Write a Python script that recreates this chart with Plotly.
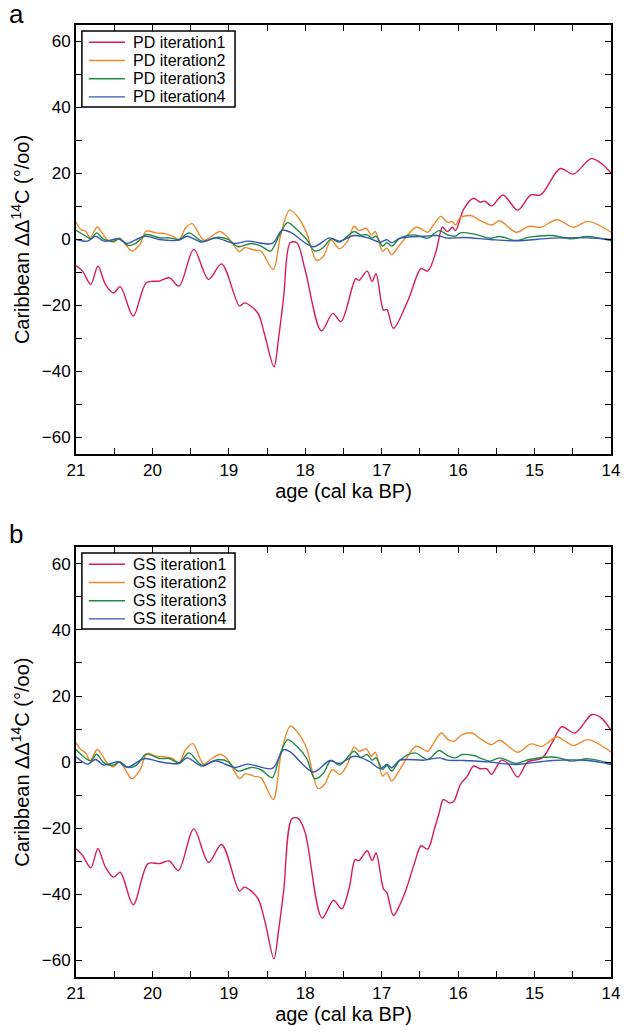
import plotly.graph_objects as go

# ---------------- Panel a (PD) ----------------
pd1_age = [21.0, 20.914, 20.807, 20.713, 20.615, 20.508, 20.422, 20.251, 20.080, 19.909, 19.780, 19.652,
           19.459, 19.266, 19.095, 18.860, 18.796, 18.624, 18.53, 18.410, 18.35, 18.282, 18.197, 18.110,
           18.003, 17.789, 17.640, 17.533, 17.34, 17.297, 17.19, 17.126, 17.074, 16.976, 16.933, 16.847,
           16.655, 16.484, 16.398, 16.291, 16.205, 16.141, 16.077, 16.034, 15.927, 15.80, 15.713, 15.649,
           15.563, 15.413, 15.221, 15.05, 14.921, 14.664, 14.493, 14.258, 14.129, 14.0]
pd1_val = [-7.9, -9.6, -13.6, -8.1, -13.6, -16.2, -14.3, -23.2, -13.1, -12.6, -11.6, -14.1,
           -3.0, -12.1, -7.4, -20.2, -19.2, -22.2, -29.0, -38.6, -30.0, -17.2, -1.0, -1.0,
           -9.1, -27.7, -22.4, -24.9, -11.9, -12.4, -9.6, -12.7, -10.4, -21.4, -21.2, -26.9,
           -18.4, -8.8, -9.6, -3.8, 3.7, 2.4, 3.7, 2.7, 9.2, 12.5, 11.3, 11.6,
           10.1, 13.5, 8.9, 13.5, 13.5, 21.5, 19.8, 24.5, 23.1, 20.1]

pd2_age = [21.0, 20.936, 20.872, 20.816, 20.722, 20.658, 20.593, 20.508, 20.431, 20.336, 20.272, 20.165,
           20.080, 19.951, 19.823, 19.737, 19.652, 19.566, 19.480, 19.330, 19.223, 19.116, 19.009, 18.860,
           18.796, 18.667, 18.581, 18.419, 18.325, 18.205, 18.089, 17.982, 17.854, 17.768, 17.661, 17.554,
           17.447, 17.361, 17.297, 17.203, 17.134, 17.083, 16.989, 16.933, 16.869, 16.762, 16.548, 16.398,
           16.334, 16.227, 16.141, 16.077, 16.034, 15.970, 15.820, 15.713, 15.563, 15.456, 15.242, 15.071,
           14.921, 14.707, 14.493, 14.300, 14.0]
pd2_val = [5.3, 3.0, 2.5, 0.5, 3.8, 2.0, 0.0, -0.8, 0.5, -2.0, -3.5, -1.5,
           2.5, 2.0, 1.7, 1.0, 0.0, 3.5, 4.8, -0.2, 1.0, 2.4, 0.5, -3.7,
           -2.5, -3.2, -3.5, -9.1, 1.0, 8.9, 6.6, 2.0, -6.3, -5.3, -0.2, -2.8,
           -0.5, 4.0, 2.7, 3.4, 1.4, 2.4, -3.6, -2.6, -4.6, -1.6, 3.7, 2.2,
           4.0, 7.0, 5.2, 5.4, 4.4, 6.7, 7.2, 5.7, 4.4, 5.7, 2.2, 4.0,
           3.7, 6.0, 3.7, 5.5, 2.2]

pd3_age = [21.0, 20.872, 20.807, 20.730, 20.636, 20.508, 20.431, 20.315, 20.208, 20.080, 19.909, 19.780,
           19.652, 19.523, 19.352, 19.138, 19.009, 18.881, 18.710, 18.581, 18.453, 18.346, 18.231, 18.111,
           17.982, 17.875, 17.768, 17.661, 17.554, 17.361, 17.276, 17.190, 17.126, 17.074, 16.989, 16.933,
           16.869, 16.762, 16.569, 16.398, 16.248, 16.141, 16.034, 15.970, 15.799, 15.585, 15.456, 15.242,
           15.071, 14.771, 14.514, 14.322, 14.0]
pd3_val = [2.8, 1.0, 0.2, 2.0, 0.0, -0.5, 0.2, -1.8, -1.0, 1.5, 0.5, 0.5,
           0.0, 2.0, -0.5, 0.7, 0.0, -2.2, -1.2, -2.0, -3.5, 1.0, 5.1, 3.0,
           0.0, -3.5, -2.5, 0.2, -0.8, 2.4, 1.4, 1.4, 0.4, 1.0, -2.0, -1.0,
           -2.0, 0.4, 1.4, 0.4, 2.7, 1.4, 1.0, 2.0, 1.7, 0.4, 0.9, -0.3,
           0.7, 1.2, 0.2, 0.9, -0.3]

pd4_age = [21.0, 20.850, 20.743, 20.636, 20.443, 20.336, 20.101, 19.909, 19.652, 19.545, 19.352, 19.181,
           18.924, 18.753, 18.432, 18.304, 18.196, 17.896, 17.682, 17.554, 17.361, 17.169, 17.019, 16.933,
           16.869, 16.762, 16.441, 16.270, 16.141, 15.927, 15.585, 15.242, 14.771, 14.300, 14.0]
pd4_val = [0.0, -0.5, 1.0, -0.5, 0.2, -1.2, 1.0, 0.0, -0.2, 1.0, -0.8, 0.5,
           -1.2, -0.5, -1.2, 2.8, 2.2, -2.2, 0.5, -0.5, 1.2, 0.4, -0.8, -0.1,
           -1.0, 0.4, 1.0, 1.2, 0.4, 0.6, 0.0, -0.4, 0.4, 0.5, 0.0]

# ---------------- Panel b (GS) ----------------
gs1_age = [21.0, 20.914, 20.807, 20.713, 20.615, 20.508, 20.422, 20.251, 20.058, 19.909, 19.780, 19.660,
           19.459, 19.266, 19.095, 18.860, 18.796, 18.624, 18.53, 18.410, 18.35, 18.282, 18.175, 18.090,
           18.003, 17.780, 17.630, 17.523, 17.425, 17.348, 17.297, 17.190, 17.126, 17.074, 16.976, 16.933,
           16.847, 16.76, 16.676, 16.569, 16.484, 16.398, 16.312, 16.248, 16.193, 16.120, 16.056, 15.970,
           15.884, 15.799, 15.713, 15.627, 15.563, 15.435, 15.349, 15.221, 15.092, 14.900, 14.771, 14.643,
           14.472, 14.249, 14.129, 14.0]
gs1_val = [-26.2, -28.2, -32.0, -26.2, -31.8, -34.8, -33.3, -43.1, -30.7, -30.7, -29.9, -32.8,
           -20.2, -30.3, -24.9, -39.0, -37.8, -41.1, -48.0, -59.5, -51.0, -38.8, -17.1, -17.1,
           -21.2, -47.2, -41.8, -44.4, -38.0, -29.5, -29.8, -26.8, -29.8, -27.5, -38.4, -39.5,
           -46.4, -43.0, -38.2, -30.4, -25.3, -26.3, -20.3, -15.3, -11.3, -12.3, -11.8, -6.7,
           -4.4, -1.2, -2.0, -2.0, -3.7, 0.6, -0.4, -4.5, 0.0, 1.3, 5.8, 10.7,
           8.8, 14.4, 13.4, 9.6]

gs2_age = [21.0, 20.936, 20.872, 20.816, 20.722, 20.658, 20.593, 20.508, 20.431, 20.336, 20.272, 20.165,
           20.071, 19.951, 19.823, 19.737, 19.652, 19.566, 19.472, 19.330, 19.223, 19.104, 19.009, 18.860,
           18.787, 18.667, 18.581, 18.419, 18.316, 18.196, 18.089, 17.982, 17.832, 17.747, 17.648, 17.545,
           17.447, 17.361, 17.297, 17.203, 17.134, 17.083, 16.989, 16.933, 16.869, 16.762, 16.548, 16.398,
           16.334, 16.218, 16.133, 16.056, 15.948, 15.820, 15.692, 15.563, 15.456, 15.221, 15.050, 14.900,
           14.707, 14.493, 14.300, 14.0]
gs2_val = [5.8, 3.8, 2.8, 0.4, 3.8, 2.1, -0.2, -1.4, 0.1, -3.0, -5.0, -2.5,
           2.6, 1.8, 1.6, 1.1, -0.2, 3.8, 5.6, -0.6, 1.1, 2.4, 0.6, -5.0,
           -3.5, -4.3, -4.7, -11.3, 2.6, 10.9, 8.7, 4.1, -8.0, -6.7, -2.3, -3.7,
           -0.6, 4.6, 3.3, 4.0, 1.8, 3.0, -4.2, -3.2, -5.7, -2.2, 4.8, 3.3,
           5.3, 8.8, 6.8, 6.3, 8.3, 8.8, 6.8, 5.3, 6.6, 3.0, 5.5, 4.8,
           7.6, 5.0, 6.8, 3.0]

gs3_age = [21.0, 20.872, 20.807, 20.730, 20.636, 20.508, 20.431, 20.315, 20.208, 20.080, 19.909, 19.780,
           19.652, 19.523, 19.352, 19.138, 19.009, 18.881, 18.710, 18.581, 18.432, 18.334, 18.231, 18.111,
           17.982, 17.875, 17.768, 17.661, 17.554, 17.361, 17.276, 17.190, 17.126, 17.074, 16.989, 16.933,
           16.869, 16.762, 16.569, 16.398, 16.248, 16.141, 16.034, 15.948, 15.799, 15.585, 15.456, 15.242,
           15.071, 14.728, 14.514, 14.300, 14.0]
gs3_val = [3.8, 1.1, 0.4, 2.4, -0.2, -0.9, 0.1, -1.6, -0.9, 2.4, 1.1, 1.1,
           -0.2, 2.8, -0.9, 0.8, 0.1, -2.7, -1.6, -2.3, -4.7, 2.1, 6.8, 4.8,
           1.1, -5.0, -3.5, 0.6, -0.9, 3.3, 1.4, 2.3, 0.6, 1.3, -2.2, -1.0,
           -2.7, 0.6, 2.8, 0.8, 3.5, 2.0, 1.3, 2.3, 2.0, 0.3, 1.3, -0.4,
           0.8, 1.5, 0.3, 1.0, -0.4]

gs4_age = [21.0, 20.850, 20.743, 20.636, 20.443, 20.336, 20.101, 19.909, 19.652, 19.545, 19.352, 19.181,
           18.924, 18.753, 18.432, 18.282, 18.196, 17.896, 17.682, 17.554, 17.361, 17.169, 17.019, 16.933,
           16.869, 16.762, 16.441, 16.248, 16.141, 15.927, 15.585, 15.242, 14.771, 14.300, 14.0]
gs4_val = [1.6, -0.6, 0.8, -0.9, 0.1, -1.6, 1.1, 0.1, -0.4, 1.3, -1.2, 0.4,
           -1.6, -0.6, -1.9, 3.8, 3.1, -3.0, 0.4, -0.4, 1.8, 0.3, -2.0, -0.7,
           -1.7, 0.6, 0.6, 1.3, 0.6, 0.5, 0.0, -0.7, 0.5, 0.5, -0.7]

names_a = ["PD iteration1", "PD iteration2", "PD iteration3", "PD iteration4"]
names_b = ["GS iteration1", "GS iteration2", "GS iteration3", "GS iteration4"]
colors = ["#d81b60", "#ef8a2c", "#1f8a45", "#3457b0"]

x_tickvals = [21, 20.5, 20, 19.5, 19, 18.5, 18, 17.5, 17, 16.5, 16, 15.5, 15, 14.5, 14]
x_ticktext = ["21", "", "20", "", "19", "", "18", "", "17", "", "16", "", "15", "", "14"]
y_tickvals = [-60, -50, -40, -30, -20, -10, 0, 10, 20, 30, 40, 50, 60]
y_ticktext = ["\u221260", "", "\u221240", "", "\u221220", "", "0", "", "20", "", "40", "", "60"]

FONT = "Liberation Sans, Arial, Helvetica, sans-serif"

fig = go.Figure()
series_a = [(pd1_age, pd1_val), (pd2_age, pd2_val), (pd3_age, pd3_val), (pd4_age, pd4_val)]
series_b = [(gs1_age, gs1_val), (gs2_age, gs2_val), (gs3_age, gs3_val), (gs4_age, gs4_val)]
for (ax, ay), nm, c in zip(series_a, names_a, colors):
    fig.add_trace(go.Scatter(x=ax, y=ay, name=nm, mode="lines", showlegend=False,
                             line=dict(color=c, width=1.4, shape="spline", smoothing=0.9),
                             xaxis="x", yaxis="y"))
for (ax, ay), nm, c in zip(series_b, names_b, colors):
    fig.add_trace(go.Scatter(x=ax, y=ay, name=nm, mode="lines", showlegend=False,
                             line=dict(color=c, width=1.4, shape="spline", smoothing=0.9),
                             xaxis="x2", yaxis="y2"))

xcommon = dict(range=[21, 14], tickmode="array", tickvals=x_tickvals, ticktext=x_ticktext,
               ticks="inside", ticklen=6, tickwidth=1, tickcolor="black",
               showline=True, linecolor="black", linewidth=2, mirror="ticks",
               showgrid=False, zeroline=False,
               tickfont=dict(family=FONT, size=17, color="black"),
               title=dict(text="age (cal ka BP)", font=dict(family=FONT, size=20, color="black"), standoff=3))
ycommon = dict(range=[-65, 65], tickmode="array", tickvals=y_tickvals, ticktext=y_ticktext,
               ticks="inside", ticklen=6, tickwidth=1, tickcolor="black",
               showline=True, linecolor="black", linewidth=2, mirror="ticks",
               showgrid=False, zeroline=False,
               tickfont=dict(family=FONT, size=17, color="black"),
               title=dict(text="Caribbean \u0394\u0394<sup>14</sup>C (\u00b0/oo)",
                          font=dict(family=FONT, size=20, color="black"), standoff=11))

# ---- hand-drawn legends (box, line samples, labels) in paper coordinates ----
shapes = []
annotations = []
PLOT_H = 952.0
PLOT_W = 545.0


def add_legend(names, top_y):
    # top_y: paper y of the legend box top
    x0, x1 = 6 / PLOT_W, 162 / PLOT_W
    box_h = 76 / PLOT_H
    shapes.append(dict(type="rect", xref="paper", yref="paper", x0=x0, x1=x1,
                       y0=top_y - box_h, y1=top_y, fillcolor="white",
                       line=dict(color="black", width=1.5), layer="above"))
    for i, (nm, c) in enumerate(zip(names, colors)):
        yc = top_y - (11.3 + 18.2 * i) / PLOT_H
        shapes.append(dict(type="line", xref="paper", yref="paper",
                           x0=13 / PLOT_W, x1=50 / PLOT_W, y0=yc, y1=yc,
                           line=dict(color=c, width=1.4), layer="above"))
        annotations.append(dict(text=nm, xref="paper", yref="paper", x=56 / PLOT_W, y=yc,
                                xanchor="left", yanchor="middle", showarrow=False,
                                font=dict(family=FONT, size=16, color="black")))


add_legend(names_a, 0.9937)
add_legend(names_b, 0.4454)

annotations += [
    dict(text="a", xref="paper", yref="paper", x=-0.112, y=1.012, showarrow=False,
         font=dict(family=FONT, size=26, color="black"), xanchor="center", yanchor="middle"),
    dict(text="b", xref="paper", yref="paper", x=-0.112, y=0.465, showarrow=False,
         font=dict(family=FONT, size=26, color="black"), xanchor="center", yanchor="middle"),
]

# page body has an 8px margin, so the figure is 8px smaller than the window
fig.update_layout(
    width=621, height=1027,
    margin=dict(l=67, r=9, t=17, b=58),
    paper_bgcolor="white", plot_bgcolor="white",
    showlegend=False,
    xaxis=dict(domain=[0, 1], anchor="y", **xcommon),
    yaxis=dict(domain=[0.5494, 1.0], anchor="x", **ycommon),
    xaxis2=dict(domain=[0, 1], anchor="y2", **xcommon),
    yaxis2=dict(domain=[0.0, 0.4514], anchor="x2", **ycommon),
    shapes=shapes,
    annotations=annotations,
)

fig.write_html("out.html")
